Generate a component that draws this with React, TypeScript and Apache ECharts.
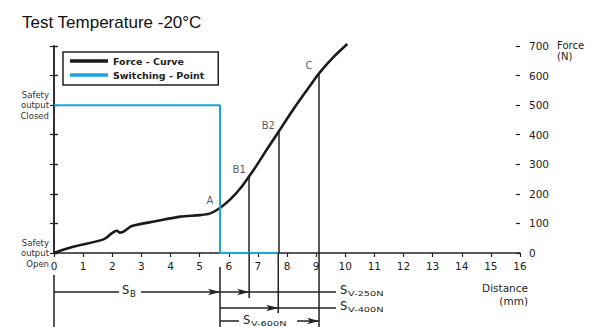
import React, { useEffect, useRef } from 'react';
import * as echarts from 'echarts';

// Force curve (distance in mm, force in N)
const distanceMm = [0, 0.66, 1.7, 1.99, 2.16, 2.27, 2.39, 2.67, 3.53, 4.34, 5.02, 5.37, 5.71, 6.06, 6.4, 6.69, 6.97, 7.32, 7.68, 8.12, 8.47, 8.81, 9.12, 9.61, 10.07];
const forceN = [0, 21, 46, 67, 75, 69, 72, 91, 108, 123, 128, 134, 153, 182, 219, 258, 298, 352, 405, 472, 522, 568, 610, 664, 707];

// Switching point (safety output closed -> open)
const switchLevel = 500;
const switchX = 5.7;
const switchEndX = 7.7;

// Marked points on the curve
const markerNames = ['A', 'B1', 'B2', 'C'];
const markerX = [5.7, 6.7, 7.7, 9.1];
const markerForce = [153, 258, 408, 610];

// Travel labels below the axis
const travelNames = ['V-250N', 'V-400N', 'V-600N'];

// Axes
const xMin = 0, xMax = 16, xInterval = 1;
const yMin = 0, yMax = 700, yInterval = 100;
const stateLevels = [0, 500];
const stateLabels = ['Safety\noutput\nOpen', 'Safety\noutput\nClosed'];
const legendNames = ['Force - Curve', 'Switching - Point'];

const INK = '#222';
const BLUE = '#19a5e2';
const FONT = 'DejaVu Sans';

export default function App() {
  const ref = useRef<HTMLDivElement>(null);
  useEffect(() => {
    if (!ref.current) return;
    const chart = echarts.init(ref.current, undefined, { renderer: 'svg' });
    const curve = distanceMm.map((d, i) => [d, forceN[i]]);
    const axisLabelStyle = { fontFamily: FONT, fontSize: 10.5, color: INK };
    const baseY = {
      type: 'value', min: yMin, max: yMax, interval: yInterval,
      splitLine: { show: false },
    };
    chart.setOption({
      animation: false,
      title: {
        text: 'Test Temperature -20°C', left: 17, top: 9,
        textStyle: { fontFamily: 'Liberation Sans', fontSize: 17, fontWeight: 'normal', color: '#111' },
      },
      legend: {
        data: legendNames, orient: 'vertical', left: 63, top: 52,
        icon: 'rect', itemWidth: 38, itemHeight: 3.5, itemGap: 4,
        padding: [4, 14, 5, 7], borderColor: INK, borderWidth: 1.5,
        textStyle: { fontFamily: FONT, fontSize: 9.5, fontWeight: 'bold', color: INK },
        selectedMode: false,
      },
      grid: { left: 54, right: 76, top: 46, bottom: 74 },
      xAxis: {
        type: 'value', min: xMin, max: xMax, interval: xInterval,
        axisLine: { lineStyle: { color: INK, width: 1.5 } },
        axisTick: { length: 4, lineStyle: { color: INK, width: 1.2 } },
        axisLabel: { ...axisLabelStyle, margin: 7 },
        splitLine: { show: false },
      },
      yAxis: [
        {
          ...baseY, position: 'right',
          axisLine: { show: true, lineStyle: { color: INK, width: 1.5 } },
          axisTick: { show: true, length: 4, lineStyle: { color: INK, width: 1.2 } },
          axisLabel: { ...axisLabelStyle, margin: 9 },
        },
        {
          ...baseY, position: 'right',
          axisLine: { show: false },
          axisTick: { show: true, inside: true, length: 4, lineStyle: { color: INK, width: 1.2 } },
          axisLabel: { show: false },
        },
        {
          ...baseY, position: 'left',
          axisLine: { show: true, lineStyle: { color: INK, width: 1.5 } },
          axisTick: { show: true, length: 4, lineStyle: { color: INK, width: 1.2 } },
          axisLabel: {
            fontFamily: FONT, fontSize: 8.5, lineHeight: 10.5, color: '#333', margin: 5, align: 'right',
            formatter: (v: number) => {
              const k = stateLevels.indexOf(v);
              return k >= 0 ? stateLabels[k] : '';
            },
          },
        },
        {
          ...baseY, position: 'left',
          axisLine: { show: false },
          axisTick: { show: true, inside: true, length: 4, lineStyle: { color: INK, width: 1.2 } },
          axisLabel: { show: false },
        },
      ],
      series: [
        {
          name: legendNames[0], type: 'line', data: curve, showSymbol: false,
          smooth: 0.3, clip: false, z: 5,
          itemStyle: { color: '#1a1a1a' },
          lineStyle: { color: '#1a1a1a', width: 2.6 },
          markLine: {
            silent: true, symbol: 'none', label: { show: false },
            lineStyle: { color: INK, width: 1.5, type: 'solid' },
            data: markerX.slice(1).map((x, i) => [
              { coord: [x, yMin] }, { coord: [x, markerForce[i + 1]] },
            ]),
          },
        },
        {
          name: legendNames[1], type: 'line', showSymbol: false, clip: false, z: 6,
          data: [[xMin, switchLevel], [switchX, switchLevel], [switchX, yMin], [switchEndX, yMin]],
          itemStyle: { color: BLUE },
          lineStyle: { color: BLUE, width: 2 },
        },
        {
          name: 'markers', type: 'scatter', symbolSize: 1, z: 7, silent: true,
          itemStyle: { color: 'rgba(0,0,0,0)' },
          data: markerNames.map((n, i) => ({ name: n, value: [markerX[i], markerForce[i]] })),
          label: {
            show: true, formatter: '{b}', position: 'inside', offset: [-10, -7],
            fontFamily: FONT, fontSize: 10, color: '#2a2a3a',
          },
        },
      ],
    });

    const X = (v: number) => chart.convertToPixel({ xAxisIndex: 0 }, v) as number;
    const Y = (v: number) => chart.convertToPixel({ yAxisIndex: 0 }, v) as number;
    const line = (x1: number, y1: number, x2: number, y2: number) => ({
      type: 'line', silent: true, z: 10,
      shape: { x1, y1, x2, y2 }, style: { stroke: INK, lineWidth: 1.5 },
    });
    const arrow = (tip: number, y: number) => ({
      type: 'polygon', silent: true, z: 11,
      shape: { points: [[tip, y], [tip - 12, y - 3.2], [tip - 9, y], [tip - 12, y + 3.2]] },
      style: { fill: INK },
    });
    const text = (x: number, y: number, t: string, size: number, extra: any = {}) => ({
      type: 'text', silent: true, z: 12, x, y,
      style: { text: t, fontFamily: FONT, fontSize: size, fill: INK, align: 'left', verticalAlign: 'middle', ...extra },
    });
    const sLabel = (x: number, y: number, sub: string) => [
      text(x, y, 'S', 11.5),
      { ...text(x + 8, y + 3, sub, 7.5), scaleX: 1.3 },
    ];

    const x0 = X(xMin), xs = X(switchX), xB1 = X(markerX[1]), xB2 = X(markerX[2]), xC = X(markerX[3]);
    const y0 = Y(yMin);
    const r1 = 292, r2 = 308, r3 = 321, bottom = 327;
    const sbX = x0 + (xs - x0) * 0.41;

    const elements: any[] = [
      line(x0, y0 + 22, x0, bottom),
      line(xs, y0 + 14, xs, bottom),
      line(xB1, y0, xB1, r1 + 6),
      line(xB2, y0, xB2, r2 + 5),
      line(xC, y0, xC, bottom),
      // row 1: S_B and S_V-250N
      line(x0, r1, xC + 17, r1),
      arrow(xs, r1), arrow(xB1, r1),
      { type: 'rect', silent: true, z: 11, shape: { x: sbX - 3, y: r1 - 8, width: 22, height: 16 }, style: { fill: '#fff' } },
      text(sbX, r1 - 2, 'S', 11.5),
      text(sbX + 8, r1 + 2, 'B', 8.5),
      ...sLabel(xC + 21, r1 - 2, travelNames[0]),
      // row 2: S_V-400N
      line(xs, r2, xC + 17, r2),
      arrow(xB2, r2),
      ...sLabel(xC + 21, r2 - 2, travelNames[1]),
      // row 3: S_V-600N
      line(xs, r3, xC, r3),
      arrow(xC, r3),
      { type: 'rect', silent: true, z: 11, shape: { x: xs + 19, y: r3 - 8, width: 58, height: 14 }, style: { fill: '#fff' } },
      ...sLabel(xs + 23, r3 - 1, travelNames[2]),
      // axis names
      text(557, 40, 'Force\n(N)', 10, { verticalAlign: 'top', lineHeight: 11 }),
      text(528, 281, 'Distance\n(mm)', 10.5, { verticalAlign: 'top', align: 'right', lineHeight: 13 }),
    ];
    chart.setOption({ graphic: { elements } });

    return () => chart.dispose();
  }, []);
  return <div ref={ref} style={{ position: 'fixed', left: 0, top: 0, width: 596, height: 327, background: '#fff' }} />;
}
